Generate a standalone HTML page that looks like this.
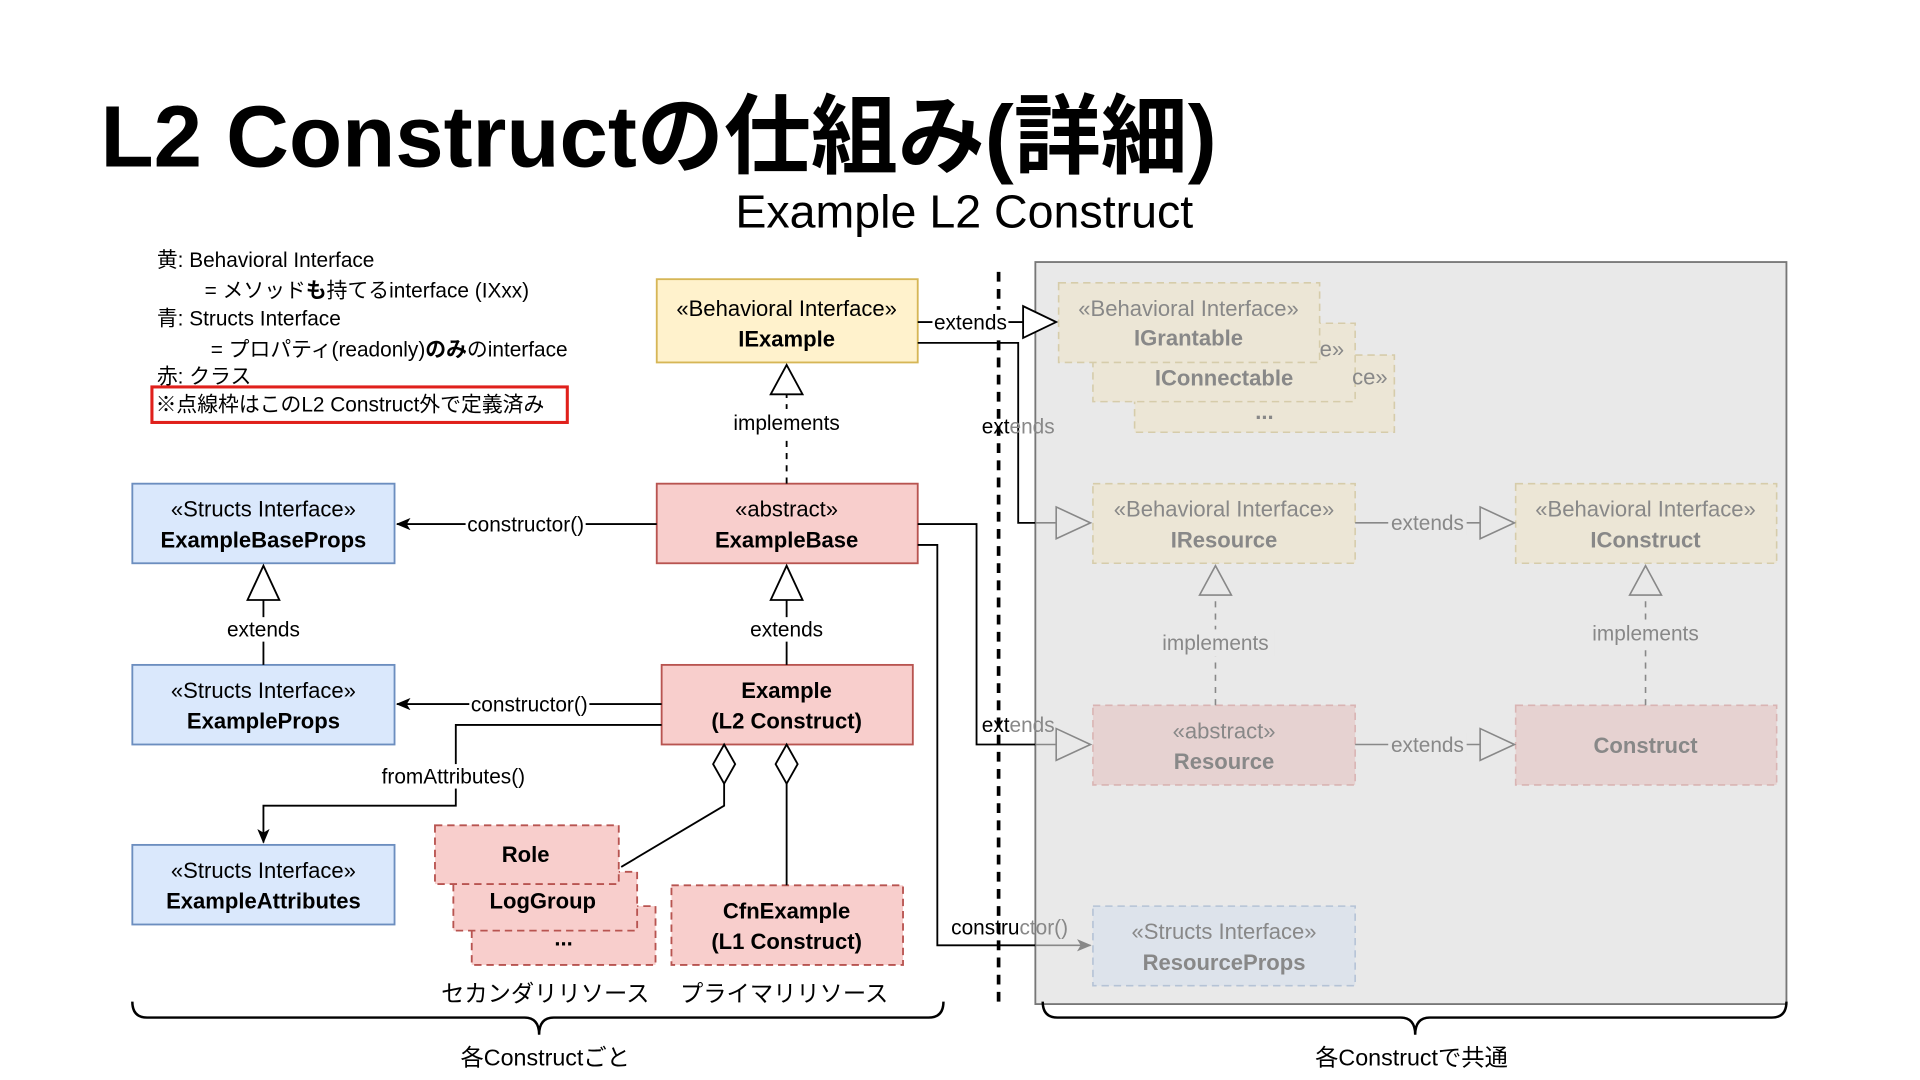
<!DOCTYPE html>
<html><head><meta charset="utf-8"><style>
html,body{margin:0;padding:0;background:#fff;width:1920px;height:1080px;overflow:hidden}
svg{display:block}
text{font-family:"Liberation Sans","Noto Sans CJK JP",sans-serif}
</style></head><body>
<svg width="1920" height="1080" viewBox="0 0 1567 882" preserveAspectRatio="none" xmlns="http://www.w3.org/2000/svg">
<defs>
<marker id="fa" markerWidth="12" markerHeight="10" refX="11" refY="5" orient="auto" markerUnits="userSpaceOnUse"><path d="M0,0 L12,5 L0,10 L3,5 Z" fill="#000"/></marker>
<marker id="ga" markerWidth="12" markerHeight="10" refX="11" refY="5" orient="auto" markerUnits="userSpaceOnUse"><path d="M0,0 L12,5 L0,10 L3,5 Z" fill="#888"/></marker>
</defs>
<text x="82" y="136" font-size="71" font-weight="bold">L2 Constructの仕組み(詳細)</text>
<text x="787" y="186" font-size="38" text-anchor="middle">Example L2 Construct</text>

<g font-size="17">
<text x="128" y="218">黄: Behavioral Interface</text>
<text x="167" y="243">= メソッド<tspan font-weight="bold">も</tspan>持てるinterface (IXxx)</text>
<text x="128" y="266">青: Structs Interface</text>
<text x="172" y="291">= プロパティ(readonly)<tspan font-weight="bold">のみ</tspan>のinterface</text>
<text x="128" y="313">赤: クラス</text>
<text x="127" y="336">※点線枠はこのL2 Construct外で定義済み</text>
</g>
<rect x="124" y="316" width="339" height="29" fill="none" stroke="#e0201b" stroke-width="2.5"/>

<rect x="845" y="214" width="613" height="606" fill="#e9e9e9" stroke="#777" stroke-width="1.5"/>
<line x1="815" y1="222" x2="815" y2="822" stroke="#000" stroke-width="3" stroke-dasharray="8,6"/>

<g stroke="#d6ccaa" stroke-dasharray="6,4" stroke-width="1.3" fill="#ece6d6">
<rect x="926" y="290" width="212" height="63"/>
<rect x="892" y="264" width="214" height="64"/>
<rect x="864" y="231" width="213" height="65"/>
<rect x="892" y="395" width="214" height="65"/>
<rect x="1237" y="395" width="213" height="65"/>
</g>
<g stroke="#d9b4b3" stroke-dasharray="6,4" stroke-width="1.3" fill="#e6d2d1">
<rect x="892" y="576" width="214" height="65"/>
<rect x="1237" y="576" width="213" height="65"/>
</g>
<rect x="892" y="740" width="214" height="65" fill="#dde3eb" stroke="#b5c3d6" stroke-dasharray="6,4" stroke-width="1.3"/>
<g fill="#888" font-size="18" text-anchor="middle">
<text x="1118" y="314">ce»</text>
<text x="1087" y="291">e»</text>
<text x="1032" y="342" font-weight="bold">...</text>
<text x="970" y="258">«Behavioral Interface»</text>
<text x="970" y="282" font-weight="bold">IGrantable</text>
<text x="999" y="315" font-weight="bold">IConnectable</text>
<text x="999" y="422">«Behavioral Interface»</text>
<text x="999" y="447" font-weight="bold">IResource</text>
<text x="1343" y="422">«Behavioral Interface»</text>
<text x="1343" y="447" font-weight="bold">IConstruct</text>
<text x="999" y="603">«abstract»</text>
<text x="999" y="628" font-weight="bold">Resource</text>
<text x="1343" y="615" font-weight="bold">Construct</text>
<text x="999" y="767">«Structs Interface»</text>
<text x="999" y="792" font-weight="bold">ResourceProps</text>
</g>
<g stroke="#888" stroke-width="1.3" fill="none">
<line x1="1106" y1="427" x2="1208" y2="427"/><path d="M1208,414 L1236,427 L1208,440 Z" fill="#e9e9e9"/>
<line x1="1106" y1="608" x2="1208" y2="608"/><path d="M1208,595 L1236,608 L1208,621 Z" fill="#e9e9e9"/>
<line x1="992" y1="576" x2="992" y2="486" stroke-dasharray="5,5"/><path d="M979,486 L992,462 L1005,486 Z" fill="#e9e9e9"/>
<line x1="1343" y1="576" x2="1343" y2="486" stroke-dasharray="5,5"/><path d="M1330,486 L1343,462 L1356,486 Z" fill="#e9e9e9"/>
</g>
<g fill="#888" font-size="17" text-anchor="middle">
<rect x="1133" y="417" width="64" height="20" fill="#e9e9e9"/><text x="1165" y="433">extends</text>
<rect x="1133" y="598" width="64" height="20" fill="#e9e9e9"/><text x="1165" y="614">extends</text>
<rect x="944" y="514" width="96" height="22" fill="#e9e9e9"/><text x="992" y="531">implements</text>
<rect x="1295" y="506" width="96" height="22" fill="#e9e9e9"/><text x="1343" y="523">implements</text>
</g>

<rect x="536" y="228" width="213" height="68" fill="#fff2cc" stroke="#d6b656" stroke-width="1.5"/>
<rect x="536" y="395" width="213" height="65" fill="#f8cecc" stroke="#b85450" stroke-width="1.5"/>
<rect x="540" y="543" width="205" height="65" fill="#f8cecc" stroke="#b85450" stroke-width="1.5"/>
<g fill="#dae8fc" stroke="#6c8ebf" stroke-width="1.5">
<rect x="108" y="395" width="214" height="65"/>
<rect x="108" y="543" width="214" height="65"/>
<rect x="108" y="690" width="214" height="65"/>
</g>
<g fill="#f8cecc" stroke="#b85450" stroke-width="1.5" stroke-dasharray="6,4">
<rect x="385" y="740" width="150" height="48"/>
<rect x="370" y="712" width="150" height="48"/>
<rect x="355" y="674" width="150" height="48"/>
<rect x="548" y="723" width="189" height="65"/>
</g>
<g font-size="18" text-anchor="middle" fill="#000">
<text x="642" y="258">«Behavioral Interface»</text>
<text x="642" y="283" font-weight="bold">IExample</text>
<text x="642" y="422">«abstract»</text>
<text x="642" y="447" font-weight="bold">ExampleBase</text>
<text x="642" y="570" font-weight="bold">Example</text>
<text x="642" y="595" font-weight="bold">(L2 Construct)</text>
<text x="215" y="422">«Structs Interface»</text>
<text x="215" y="447" font-weight="bold">ExampleBaseProps</text>
<text x="215" y="570">«Structs Interface»</text>
<text x="215" y="595" font-weight="bold">ExampleProps</text>
<text x="215" y="717">«Structs Interface»</text>
<text x="215" y="742" font-weight="bold">ExampleAttributes</text>
<text x="429" y="704" font-weight="bold">Role</text>
<text x="443" y="742" font-weight="bold">LogGroup</text>
<text x="460" y="772" font-weight="bold">...</text>
<text x="642" y="750" font-weight="bold">CfnExample</text>
<text x="642" y="775" font-weight="bold">(L1 Construct)</text>
</g>

<g stroke="#000" stroke-width="1.5" fill="none">
<line x1="642" y1="395" x2="642" y2="322" stroke-dasharray="5,5"/>
<path d="M629,322 L642,298 L655,322 Z" fill="#fff"/>
<line x1="536" y1="428" x2="324" y2="428" marker-end="url(#fa)"/>
<line x1="540" y1="575" x2="324" y2="575" marker-end="url(#fa)"/>
<line x1="642" y1="543" x2="642" y2="490"/><path d="M629,490 L642,462 L655,490 Z" fill="#fff"/>
<line x1="215" y1="543" x2="215" y2="490"/><path d="M202,490 L215,462 L228,490 Z" fill="#fff"/>
<path d="M540,592 L372,592 L372,658 L215,658 L215,688" marker-end="url(#fa)"/>
<path d="M591,608 L600,624 L591,640 L582,624 Z" fill="#fff"/>
<path d="M591,640 L591,658 L507,708"/>
<path d="M642,608 L651,624 L642,640 L633,624 Z" fill="#fff"/>
<line x1="642" y1="640" x2="642" y2="723"/>
<line x1="749" y1="263" x2="835" y2="263"/><path d="M835,250 L862,263 L835,276 Z" fill="#fff"/>
<path d="M749,280 L831,280 L831,427 L845,427"/>
<path d="M749,428 L797,428 L797,608 L845,608"/>
<path d="M749,445 L765,445 L765,772 L845,772"/>
</g>
<g stroke="#888" stroke-width="1.3" fill="none">
<line x1="845" y1="427" x2="862" y2="427"/><path d="M862,414 L890,427 L862,440 Z" fill="#e9e9e9"/>
<line x1="845" y1="608" x2="862" y2="608"/><path d="M862,595 L890,608 L862,621 Z" fill="#e9e9e9"/>
<line x1="845" y1="772" x2="890" y2="772" marker-end="url(#ga)"/>
</g>
<g font-size="17" text-anchor="middle">
<rect x="595" y="334" width="94" height="22" fill="#fff"/><text x="642" y="351">implements</text>
<rect x="380" y="418" width="98" height="20" fill="#fff"/><text x="429" y="434">constructor()</text>
<rect x="383" y="565" width="98" height="20" fill="#fff"/><text x="432" y="581">constructor()</text>
<rect x="610" y="504" width="64" height="20" fill="#fff"/><text x="642" y="520">extends</text>
<rect x="183" y="504" width="64" height="20" fill="#fff"/><text x="215" y="520">extends</text>
<rect x="308" y="624" width="124" height="20" fill="#fff"/><text x="370" y="640">fromAttributes()</text>
<rect x="761" y="253" width="62" height="20" fill="#fff"/><text x="792" y="269">extends</text>
<text x="831" y="354">ext<tspan fill="#888">ends</tspan></text>
<text x="831" y="598">ext<tspan fill="#888">ends</tspan></text>
<text x="824" y="763">constru<tspan fill="#888">ctor()</tspan></text>
<text x="445" y="818" font-size="19">セカンダリリソース</text>
<text x="640" y="818" font-size="19">プライマリリソース</text>
<text x="445" y="870" font-size="19">各Constructごと</text>
<text x="1152" y="870" font-size="19">各Constructで共通</text>
</g>
<g stroke="#000" stroke-width="2" fill="none">
<path d="M108,818 Q108,831 120,831 L428,831 Q440,831 440,845 Q440,831 452,831 L758,831 Q770,831 770,818"/>
<path d="M851,818 Q851,831 863,831 L1143,831 Q1155,831 1155,845 Q1155,831 1167,831 L1446,831 Q1458,831 1458,818"/>
</g>
</svg>
</body></html>
